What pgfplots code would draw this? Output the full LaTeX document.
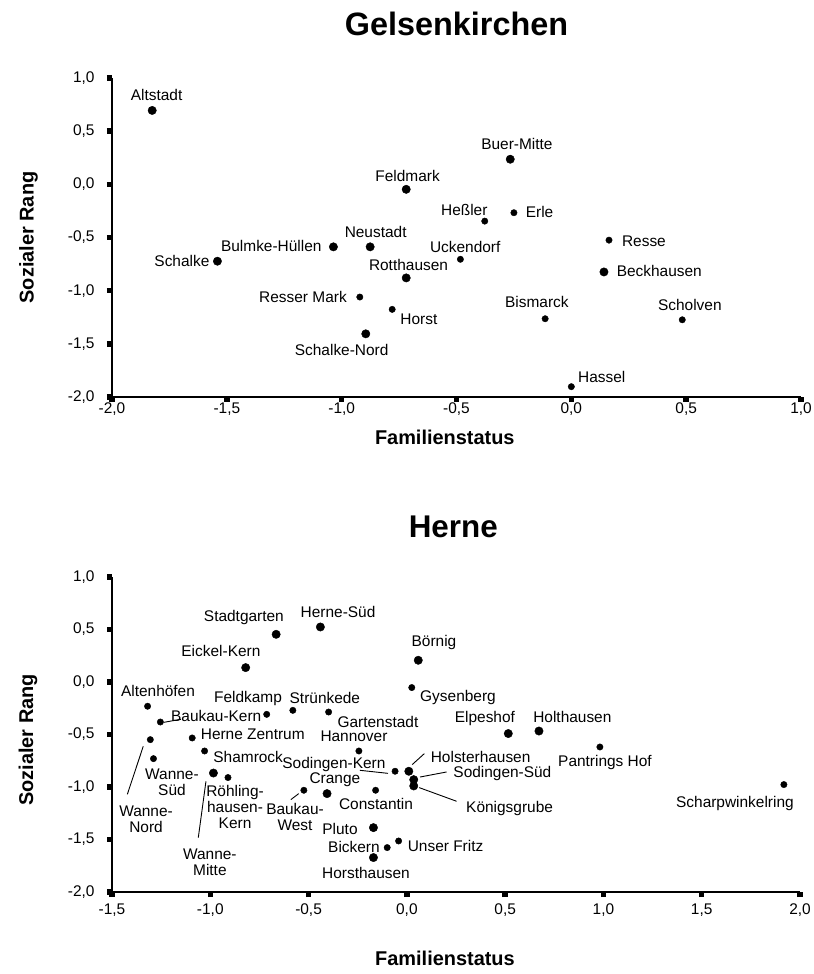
\documentclass[border=0pt]{standalone}
\usepackage{fontspec}
\setmainfont{Liberation Sans}
\usepackage{pgfplots}
\pgfplotsset{compat=1.18}
\tikzset{lab/.style={font=\fontsize{15.5}{16}\selectfont, inner sep=0pt, align=center}}
\begin{document}
\begin{tikzpicture}
\useasboundingbox (0,0) rectangle (814bp,974bp);
\pgfplotsset{
  mystyle/.style={
    scale only axis,
    axis lines=left,
    axis line style={-, line width=1.3bp},
    tick align=outside,
    major tick length=5bp,
    tick style={line width=5.5bp, black},
    ytick={-2,-1.5,-1,-0.5,0,0.5,1},
    ymin=-2, ymax=1,
    clip=false,
    /pgf/number format/.cd, fixed, fixed zerofill, precision=1, use comma, assume math mode=true,
    /pgfplots/.cd,
    ticklabel style={font=\fontsize{15.5}{18}\selectfont},
    yticklabel style={xshift=-9bp},
    xlabel={Familienstatus},
    ylabel={Sozialer Rang},
    label style={font=\bfseries\fontsize{20}{22}\selectfont},
    title style={font=\bfseries\fontsize{32.5}{36}\selectfont, anchor=center},
  },
  big/.style={only marks, mark=*, mark size=4.2bp, black},
  small/.style={only marks, mark=*, mark size=3.2bp, black},
}
% ---------------- Gelsenkirchen ----------------
\begin{axis}[mystyle,
  at={(112bp,577bp)}, anchor=south west,
  width=689bp, height=319bp,
  xmin=-2, xmax=1,
  xtick={-2,-1.5,-1,-0.5,0,0.5,1},
  xticklabel style={yshift=3bp},
  title={Gelsenkirchen},
  title style={at={(axis description cs:0.5,1.152)}},
  xlabel style={at={(axis description cs:0.483,-0.128)}, anchor=center},
  ylabel style={at={(axis description cs:-0.121,0.5)}, anchor=center},
]
\addplot[big] coordinates {
(-1.825,0.695) (-1.541,-0.723) (-1.036,-0.588) (-0.876,-0.588) (-0.719,-0.047)
(-0.719,-0.88) (-0.895,-1.406) (-0.266,0.236) (0.142,-0.824)};
\addplot[small] coordinates {
(-0.921,-1.06) (-0.78,-1.176) (-0.377,-0.346) (-0.25,-0.267) (-0.483,-0.705)
(0.164,-0.525) (-0.114,-1.264) (0.483,-1.274) (0.0,-1.903)};
\node[lab] at (axis cs:-1.806,0.838) {Altstadt};
\node[lab] at (axis cs:-0.713,0.075) {Feldmark};
\node[lab] at (axis cs:-0.237,0.377) {Buer-Mitte};
\node[lab] at (axis cs:-0.852,-0.452) {Neustadt};
\node[lab,anchor=east] at (axis cs:-1.087,-0.584) {Bulmke-Hüllen};
\node[lab,anchor=east] at (axis cs:-1.575,-0.725) {Schalke};
\node[lab] at (axis cs:-0.709,-0.763) {Rotthausen};
\node[lab,anchor=east] at (axis cs:-0.977,-1.064) {Resser Mark};
\node[lab,anchor=west] at (axis cs:-0.745,-1.271) {Horst};
\node[lab] at (axis cs:-1.0,-1.554) {Schalke-Nord};
\node[lab] at (axis cs:-0.466,-0.245) {Heßler};
\node[lab,anchor=west] at (axis cs:-0.199,-0.264) {Erle};
\node[lab] at (axis cs:-0.462,-0.593) {Uckendorf};
\node[lab,anchor=west] at (axis cs:0.22,-0.537) {Resse};
\node[lab,anchor=west] at (axis cs:0.197,-0.819) {Beckhausen};
\node[lab] at (axis cs:-0.15,-1.102) {Bismarck};
\node[lab] at (axis cs:0.516,-1.139) {Scholven};
\node[lab,anchor=west] at (axis cs:0.029,-1.808) {Hassel};
\end{axis}
% ---------------- Herne ----------------
\begin{axis}[mystyle,
  at={(112bp,82bp)}, anchor=south west,
  width=688bp, height=315bp,
  xmin=-1.5, xmax=2,
  xtick={-1.5,-1,-0.5,0,0.5,1,1.5,2},
  xticklabel style={yshift=-3bp},
  title={Herne},
  title style={at={(axis description cs:0.496,1.14)}, font=\bfseries\fontsize{31.5}{36}\selectfont},
  xlabel style={at={(axis description cs:0.484,-0.21)}, anchor=center},
  ylabel style={at={(axis description cs:-0.122,0.483)}, anchor=center},
]
\addplot[big] coordinates {
(-0.665,0.454) (-0.44,0.524) (-0.82,0.137) (0.058,0.207) (0.516,-0.491)
(0.672,-0.467) (-0.406,-1.063) (-0.984,-0.867) (-0.17,-1.387) (-0.17,-1.672)
(0.01,-0.85) (0.035,-0.93) (0.035,-0.99)};
\addplot[small] coordinates {
(0.025,-0.053) (-1.319,-0.231) (-1.254,-0.381) (-1.305,-0.549) (-1.289,-0.73)
(-1.092,-0.533) (-1.029,-0.657) (-0.713,-0.308) (-0.58,-0.27) (-0.398,-0.286)
(-0.244,-0.657) (-0.91,-0.91) (-0.524,-1.031) (-0.159,-1.031) (-0.06,-0.85)
(-0.1,-1.577) (-0.042,-1.514) (0.982,-0.619) (1.918,-0.977)};
\node[lab] at (axis cs:-0.829,0.616) {Stadtgarten};
\node[lab] at (axis cs:-0.350,0.664) {Herne-Süd};
\node[lab] at (axis cs:-0.946,0.292) {Eickel-Kern};
\node[lab] at (axis cs:0.138,0.378) {Börnig};
\node[lab,anchor=west] at (axis cs:0.067,-0.146) {Gysenberg};
\node[lab] at (axis cs:-1.266,-0.089) {Altenhöfen};
\node[lab] at (axis cs:-0.808,-0.155) {Feldkamp};
\node[lab] at (axis cs:-0.417,-0.155) {Strünkede};
\node[lab,anchor=west] at (axis cs:-1.2,-0.327) {Baukau-Kern};
\node[lab] at (axis cs:-0.147,-0.384) {Gartenstadt};
\node[lab,anchor=west] at (axis cs:-1.049,-0.498) {Herne Zentrum};
\node[lab] at (axis cs:-0.269,-0.517) {Hannover};
\node[lab] at (axis cs:0.397,-0.346) {Elpeshof};
\node[lab] at (axis cs:0.842,-0.336) {Holthausen};
\node[lab] at (axis cs:1.008,-0.765) {Pantrings Hof};
\node[lab,anchor=west] at (axis cs:-0.985,-0.717) {Shamrock};
\node[lab] at (axis cs:-0.371,-0.784) {Sodingen-Kern};
\node[lab,anchor=west] at (axis cs:0.121,-0.717) {Holsterhausen};
\node[lab,anchor=west] at (axis cs:0.236,-0.87) {Sodingen-Süd};
\node[lab,anchor=west] at (axis cs:0.301,-1.203) {Königsgrube};
\node[lab] at (axis cs:-0.366,-0.927) {Crange};
\node[lab] at (axis cs:-1.195,-0.955) {Wanne-\\Süd};
\node[lab] at (axis cs:-1.327,-1.308) {Wanne-\\Nord};
\node[lab] at (axis cs:-0.874,-1.193) {Röhling-\\hausen-\\Kern};
\node[lab] at (axis cs:-1.002,-1.717) {Wanne-\\Mitte};
\node[lab] at (axis cs:-0.569,-1.289) {Baukau-\\West};
\node[lab] at (axis cs:-0.157,-1.165) {Constantin};
\node[lab] at (axis cs:-0.340,-1.403) {Pluto};
\node[lab] at (axis cs:-0.269,-1.574) {Bickern};
\node[lab,anchor=west] at (axis cs:0.004,-1.565) {Unser Fritz};
\node[lab] at (axis cs:-0.208,-1.822) {Horsthausen};
\node[lab] at (axis cs:1.669,-1.155) {Scharpwinkelring};
% leader lines
\draw[line width=0.9bp] (axis cs:-1.236,-0.384) -- (axis cs:-1.149,-0.355);
\draw[line width=0.9bp] (axis cs:-1.341,-0.612) -- (axis cs:-1.422,-1.07);
\draw[line width=0.9bp] (axis cs:-1.022,-0.946) -- (axis cs:-1.061,-1.482);
\draw[line width=0.9bp] (axis cs:-0.590,-1.12) -- (axis cs:-0.550,-1.063);
\draw[line width=0.9bp] (axis cs:-0.239,-0.841) -- (axis cs:-0.096,-0.87);
\draw[line width=0.9bp] (axis cs:0.027,-0.787) -- (axis cs:0.089,-0.682);
\draw[line width=0.9bp] (axis cs:0.067,-0.905) -- (axis cs:0.202,-0.857);
\draw[line width=0.9bp] (axis cs:0.063,-1.006) -- (axis cs:0.253,-1.136);
\end{axis}
\end{tikzpicture}
\end{document}
